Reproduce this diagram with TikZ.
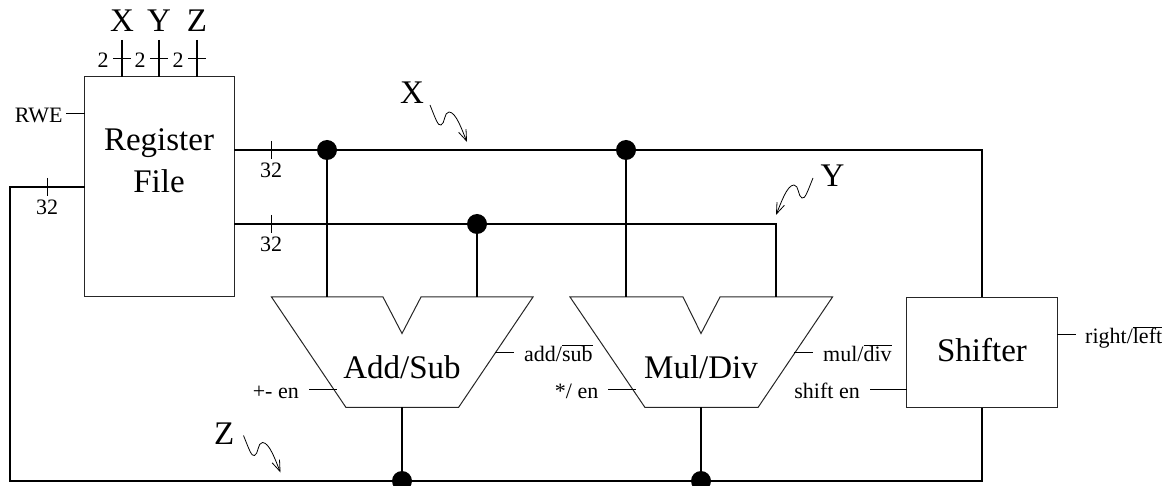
\documentclass[tikz,border=0pt]{standalone}
\usepackage{fontspec}
\setmainfont{Liberation Serif}
\usetikzlibrary{arrows.meta,calc}
\tikzset{
  box/.style={draw=black!85,line width=1pt,fill=white,inner sep=0pt,outer sep=0pt},
  wire/.style={draw=black,line width=1.6pt},
  thinwire/.style={draw=black,line width=0.9pt},
  tick/.style={draw=black,line width=0.8pt},
  dot/.style={circle,fill=black,inner sep=0pt,minimum size=20pt,outer sep=0pt},
  big/.style={anchor=base,inner sep=0pt,font=\fontsize{33}{33}\selectfont},
  small/.style={anchor=base,inner sep=0pt,font=\fontsize{22}{22}\selectfont},
  squig/.pic={\draw[line width=0.8pt,-{Straight Barb[length=11pt,width=8pt]}]
    (0,0) .. controls (6,15) and (8,21) .. (11,20)
    .. controls (15,19) and (14,7) .. (19,7)
    .. controls (26,7) and (32,25) .. (37,37);}
}
\begin{document}
\begin{tikzpicture}[x=1pt,y=-1pt]
\clip (0,0) rectangle (1168,486);
% boxes
\node[box,minimum width=149.5pt,minimum height=220pt] (rf) at (159.25,187) {};
\node[box,minimum width=150.5pt,minimum height=110.5pt] (sh) at (982,352.5) {};
% trapezoids
\coordinate (a1) at (271.5,297); \coordinate (a2) at (383,297); \coordinate (a3) at (402,333.5);
\coordinate (a4) at (421,297); \coordinate (a5) at (533,297); \coordinate (a6) at (458.5,407.5); \coordinate (a7) at (346,407.5);
\draw[line width=1pt,draw=black!85] (a1)--(a2)--(a3)--(a4)--(a5)--(a6)--(a7)--cycle;
\coordinate (m1) at (570,297); \coordinate (m2) at (683,297); \coordinate (m3) at (701,333.5);
\coordinate (m4) at (720,297); \coordinate (m5) at (832.5,297); \coordinate (m6) at (758,407.5); \coordinate (m7) at (645,407.5);
\draw[line width=1pt,draw=black!85] (m1)--(m2)--(m3)--(m4)--(m5)--(m6)--(m7)--cycle;
% junctions
\node[dot] (dx1) at (327,150) {};
\node[dot] (dx2) at (626,150) {};
\node[dot] (dy1) at (477,224) {};
\node[dot] (dz1) at (402,481) {};
\node[dot] (dz2) at (701,481) {};
% buses
\coordinate (xs) at (rf.east |- dx1);
\coordinate (xc) at (sh.north |- dx1);
\coordinate (ys) at (rf.east |- dy1);
\coordinate (ye) at (776,297);
\coordinate (zr) at (sh.south |- dz1);
\coordinate (zl) at (10,481);
\coordinate (zt) at (10,187);
\coordinate (ze) at (rf.west |- zt);
\draw[wire] (xs) -- (xc) -- (sh.north);
\draw[wire] (ys) -- (ys -| ye) -- (ye);
\draw[wire] (sh.south) -- (zr) -- (zl) -- (zt) -- (ze);
\draw[wire] (dx1) -- (dx1 |- a1);
\draw[wire] (dx2) -- (dx2 |- a1);
\draw[wire] (dy1) -- (dy1 |- a1);
\draw[wire] (dz1) -- (dz1 |- a7);
\draw[wire] (dz2) -- (dz2 |- m7);
% top select lines
\foreach \n/\x/\t in {px/122/X,py/159/Y,pz/197/Z}{
  \coordinate (\n) at (\x,40);
  \draw[wire] (\n) -- (\n |- rf.north);
  \coordinate (\n a) at (\x-9,58); \coordinate (\n b) at (\x+9,58);
  \draw[tick] (\n a) -- (\n b);
  \node[big] (\n t) at (\x,31.7) {\t};
  \node[small] (\n n) at (\x-19,67.7) {2};
}
% bus width ticks
\foreach \n/\x/\y/\yy in {t1/271/150/178,t2/271/224/252,t3/47/187/215}{
  \coordinate (\n a) at (\x,\y-9); \coordinate (\n b) at (\x,\y+9);
  \draw[tick] (\n a) -- (\n b);
  \node[small] (\n n) at (\x,\yy) {32};
}
% big labels
\node[big] (lr1) at (159,150.5) {Register};
\node[big] (lr2) at (159,192.7) {File};
\node[big] (la) at (402,379) {Add/Sub};
\node[big] (lm) at (701,379) {Mul/Div};
\node[big] (ls) at (982,362) {Shifter};
\node[big,anchor=base west] (lx) at (400,104) {X};
\node[big,anchor=base west] (ly) at (820.5,186.7) {Y};
\node[big,anchor=base west] (lz) at (214,444) {Z};
% control labels
\node[small,anchor=base east] (rwe) at (62.7,123) {RWE};
\coordinate (rwes) at (66,113);
\draw[thinwire] (rwes) -- (rwes -| rf.west);
\node[small,anchor=base west] (as) at (524,362) {add/$\overline{\mbox{sub}}$};
\coordinate (as1) at (495,352); \coordinate (as2) at (514,352);
\draw[thinwire] (as1) -- (as2);
\node[small,anchor=base east] (pe) at (299,399) {+- en};
\coordinate (pe1) at (309,389); \coordinate (pe2) at (337,389);
\draw[thinwire] (pe1) -- (pe2);
\node[small,anchor=base east] (me) at (598.5,399) {*/ en};
\coordinate (me1) at (608,389); \coordinate (me2) at (636,389);
\draw[thinwire] (me1) -- (me2);
\node[small,anchor=base west] (md) at (823,362) {mul/$\overline{\mbox{div}}$};
\coordinate (md1) at (794,352); \coordinate (md2) at (813,352);
\draw[thinwire] (md1) -- (md2);
\node[small,anchor=base east] (se) at (860,399) {shift en};
\coordinate (se1) at (870,389);
\draw[thinwire] (se1) -- (se1 -| sh.west);
\node[small,anchor=base west] (rl) at (1085,344) {right/$\overline{\mbox{left}}$};
\coordinate (rl1) at (1076,334);
\draw[thinwire] (rl1 -| sh.east) -- (rl1);
% squiggles
\pic at (430,105) {squig};
\pic[xscale=-1] at (813,178) {squig};
\pic at (243.5,435.5) {squig};
\end{tikzpicture}
\end{document}
